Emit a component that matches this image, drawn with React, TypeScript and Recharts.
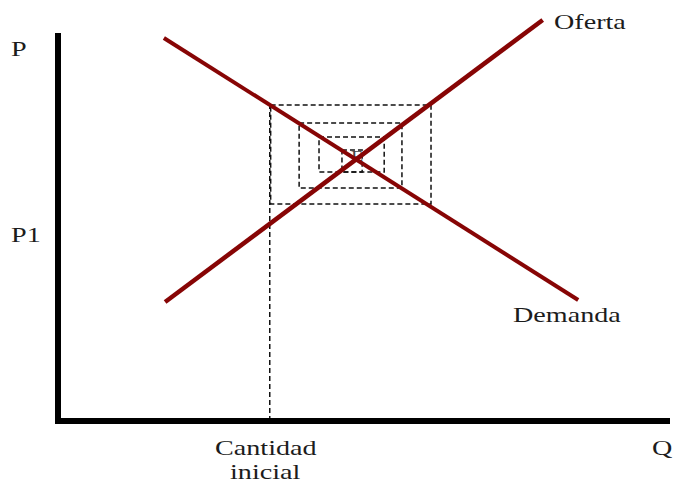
import { LineChart, Line, XAxis, YAxis } from 'recharts';

// quantity (Q) and price (P) in chart units: Q 0..100, P 0..105
const supplyQ = [17.5, 79.2];
const supplyP = [29.75, 100.25];
const demandQ = [17.3, 85];
const demandP = [95.75, 30.25];

// cobweb rectangles, outermost first
const rectLeft = [34.75, 39.4, 42.65, 46.4];
const rectRight = [60.95, 56.2, 53.3, 49.7];
const rectBottom = [54.25, 58.25, 62.25, 62.25];
const rectTop = [79, 74.5, 71, 67.75];

// initial quantity drop line
const initialQ = 34.6;
const axisQ = [0, 0, 100];
const axisP = [97, 0, 0];

const RED = '#870505';
const INK = '#111';

const toPts = (qs: number[], ps: number[]) => qs.map((q, i) => ({ q, p: ps[i] }));

const supply = toPts(supplyQ, supplyP);
const demand = toPts(demandQ, demandP);
const axes = toPts(axisQ, axisP);
const dropLine = toPts([initialQ, initialQ], [0, rectTop[0]]);
const rects = rectLeft.map((l, i) =>
  toPts([l, rectRight[i], rectRight[i], l, l], [rectTop[i], rectTop[i], rectBottom[i], rectBottom[i], rectTop[i]])
);

const labels = [
  { text: 'P', left: 11, top: 39, size: 21 },
  { text: 'P1', left: 11, top: 225, size: 21 },
  { text: 'Cantidad', left: 215, top: 438, size: 21 },
  { text: 'inicial', left: 230, top: 462, size: 21 },
  { text: 'Q', left: 652, top: 438, size: 21 },
  { text: 'Oferta', left: 554, top: 12, size: 21 },
  { text: 'Demanda', left: 513, top: 305, size: 21 },
  { text: 'E', left: 351, top: 149, size: 15 },
];

export default function App() {
  return (
    <div style={{ position: 'absolute', left: 0, top: 0, width: 680, height: 484, background: '#fff' }}>
      {labels.map((l) => (
        <div
          key={l.text}
          style={{
            position: 'absolute',
            left: l.left,
            top: l.top,
            fontFamily: '"Liberation Serif", "Times New Roman", serif',
            fontSize: l.size,
            lineHeight: `${l.size}px`,
            color: l.text === 'E' ? '#444' : '#1c1c1c',
            whiteSpace: 'nowrap',
            transform: 'scaleX(1.34)',
            transformOrigin: '0 0',
          }}
        >
          {l.text}
        </div>
      ))}
      <div style={{ position: 'absolute', left: 0, top: 0 }}>
        <LineChart width={680} height={484} margin={{ top: 1, right: 10, bottom: 63, left: 58 }}>
          <XAxis dataKey="q" type="number" domain={[0, 100]} hide />
          <YAxis dataKey="p" type="number" domain={[0, 105]} hide />
          {rects.map((r, i) => (
            <Line
              key={i}
              data={r}
              dataKey="p"
              stroke={INK}
              strokeWidth={1.5}
              strokeDasharray="5 3"
              dot={false}
              activeDot={false}
              isAnimationActive={false}
            />
          ))}
          <Line data={dropLine} dataKey="p" stroke={INK} strokeWidth={1.5} strokeDasharray="5 3" dot={false} activeDot={false} isAnimationActive={false} />
          <Line data={supply} dataKey="p" stroke={RED} strokeWidth={4.5} dot={false} activeDot={false} isAnimationActive={false} />
          <Line data={demand} dataKey="p" stroke={RED} strokeWidth={4} dot={false} activeDot={false} isAnimationActive={false} />
          <Line
            data={axes}
            dataKey="p"
            stroke="#000"
            strokeWidth={6}
            strokeLinejoin="miter"
            strokeLinecap="butt"
            dot={false}
            activeDot={false}
            isAnimationActive={false}
          />
        </LineChart>
      </div>
    </div>
  );
}
